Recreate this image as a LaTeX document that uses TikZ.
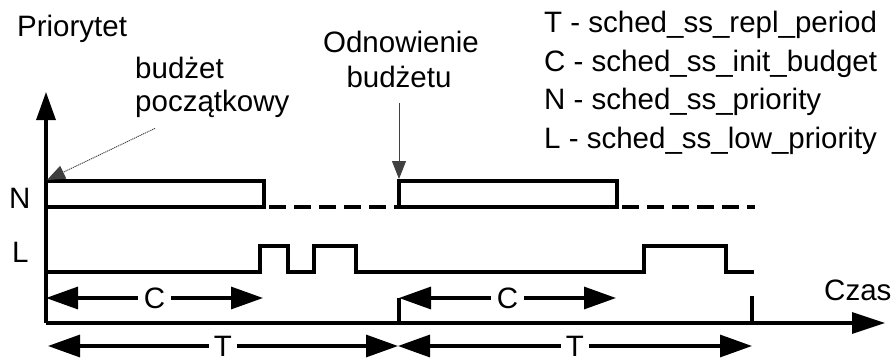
\documentclass[tikz,border=0pt]{standalone}
\usepackage{fontspec}
\setmainfont{Liberation Sans}
\usepackage{tikz}
\usetikzlibrary{arrows.meta, positioning}
\tikzstyle{lbl}=[inner sep=0pt, font={\fontsize{29.5}{34}\selectfont}]
\tikzstyle{signal}=[line width=3.2pt]
\tikzstyle{idle}=[line width=3.2pt, dash pattern=on 17pt off 8pt, dash phase=20pt]
\tikzstyle{axis}=[line width=3.2pt]
\tikzstyle{interval}=[line width=3.2pt, {Triangle[length=32pt,width=22pt]}-{Triangle[length=32pt,width=22pt]}]
\tikzstyle{intlbl}=[lbl, fill=white, inner xsep=5pt, inner ysep=0pt]
\tikzstyle{note}=[black!75, line width=0.9pt, dash pattern=on 1.2pt off 0.8pt, -{Triangle[length=18pt,width=14pt]}]

\begin{document}
\begin{tikzpicture}[x=1pt, y=-1pt, line join=miter]
  \useasboundingbox (0,0) rectangle (895,361);

  % axes
  \coordinate (o)    at (46,323);
  \coordinate (ytop) at (46,92);
  \coordinate (xend) at (885,323);
  \draw[axis, -{Triangle[length=28pt,width=19pt]}] (o) -- (ytop);
  \draw[axis, -{Triangle[length=33pt,width=21pt]}] (o) -- (xend);

  \node[lbl, anchor=base west] (prio) at (17,37)  {Priorytet};
  \node[lbl, anchor=base west] (czas) at (824,300) {Czas};
  \node[lbl, anchor=base west] (lvN)  at (9,208)  {N};
  \node[lbl, anchor=base west] (lvL)  at (12,262) {L};

  % priority N
  \draw[signal] (46,181) rectangle (264,207);
  \draw[idle]   (264,207) -- (399,207);
  \draw[signal] (399,181) rectangle (617,207);
  \draw[idle]   (617,207) -- (755,207);

  % priority L
  \draw[signal] (46,272) -- (260,272) -- (260,246) -- (288,246) -- (288,272)
                -- (314,272) -- (314,246) -- (356,246) -- (356,272)
                -- (644,272) -- (644,246) -- (726,246) -- (726,272) -- (754,272);

  % periods
  \coordinate (c1a) at (46,298);
  \coordinate (c1b) at (263,298);
  \coordinate (c2a) at (399,298);
  \coordinate (c2b) at (616,298);
  \coordinate (t1a) at (48,346);
  \coordinate (t1b) at (398,346);
  \coordinate (t2b) at (752,346);
  \draw[signal] (c2a) -- (399,323);
  \draw[signal] (752,296) -- (752,323);
  \draw[interval] (c1a) -- node[intlbl, inner xsep=6pt] (lblC1) {C} (c1b);
  \draw[interval] (c2a) -- node[intlbl, inner xsep=6pt] (lblC2) {C} (c2b);
  \draw[interval] (t1a) -- node[intlbl] (lblT1) {T} (t1b);
  \draw[interval] (t1b) -- node[intlbl] (lblT2) {T} (t2b);

  % annotations
  \node[lbl, anchor=base west] (budz) at (135,78)  {budżet};
  \node[lbl, anchor=base west] (pocz) at (135,112) {początkowy};
  \node[lbl, anchor=base]      (odn1) at (401,53)  {Odnowienie};
  \node[lbl, anchor=base]      (odn2) at (399,88)  {budżetu};
  \coordinate (start) at (47,180);
  \coordinate (renew) at (399,179);
  \draw[note] ([shift={(20,10)}]pocz.south west) -- (start);
  \draw[note] ([shift={(0,15)}]odn2.south) -- (renew);

  % legend
  \node[lbl, anchor=base west] (legT) at (544,33)  {T - sched\_ss\_repl\_period};
  \node[lbl, anchor=base west] (legC) at (544,72)  {C - sched\_ss\_init\_budget};
  \node[lbl, anchor=base west] (legN) at (544,110) {N - sched\_ss\_priority};
  \node[lbl, anchor=base west] (legL) at (544,148) {L - sched\_ss\_low\_priority};
\end{tikzpicture}
\end{document}
